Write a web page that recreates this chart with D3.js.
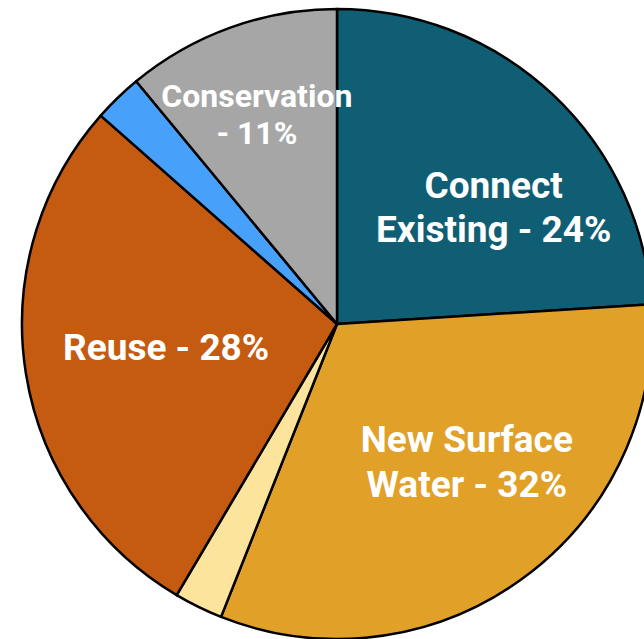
<html>
    <head>
        <title>Water Supply Strategies</title>
        <script src="https://d3js.org/d3.v7.min.js"></script>
        <style>
            body { margin: 0; background: #fff; overflow: hidden; }
            text { font-family: Roboto, sans-serif; font-weight: bold; fill: #fff; }
        </style>
    </head>
    <body>
        <script>
            // slices, clockwise from 12 o'clock
            var categories = ["Connect Existing", "New Surface Water", "Other A", "Reuse", "Other B", "Conservation"];
            var values = [24, 32, 2.5, 28, 2.5, 11];
            var colors = ["#0f5e73", "#e1a027", "#fde49d", "#c55a11", "#47a1fa", "#a6a6a6"];
            // label lines per slice (empty = no label)
            var labels = [
                ["Connect", "Existing - 24%"],
                ["New Surface", "Water - 32%"],
                [],
                ["Reuse - 28%"],
                [],
                ["Conservation", "- 11%"]
            ];

            var width = 644;
            var height = 639;
            var cx = 337;
            var cy = 324;
            var radius = 315;

            var svg = d3.select('body').append('svg')
                .attr('width', width)
                .attr('height', height);

            var g = svg.append('g')
                .attr('transform', 'translate(' + cx + ',' + cy + ')');

            var data = categories.map(function (c, i) {
                return { name: c, value: values[i], color: colors[i], lines: labels[i] };
            });

            var pie = d3.pie()
                .sort(null)
                .value(function (d) { return d.value; });

            var arc = d3.arc()
                .innerRadius(0)
                .outerRadius(radius);

            var arcs = pie(data);

            g.selectAll('path')
                .data(arcs)
                .enter()
                .append('path')
                .attr('d', arc)
                .attr('fill', function (d) { return d.data.color; })
                .attr('stroke', '#000')
                .attr('stroke-width', 2.5)
                .attr('stroke-linejoin', 'round');

            // label placement: centroid of a label arc, with a few nudges
            // [dx, dy, font size, line height]
            var labelArc = d3.arc()
                .innerRadius(0)
                .outerRadius(radius * 1.24);
            var nudge = {
                "Connect Existing": [23, 25, 37, 44],
                "New Surface Water": [15, -20, 37, 45],
                "Reuse": [22, -8, 37, 0],
                "Conservation": [-14, -26, 32, 37]
            };

            var lg = g.selectAll('g.label')
                .data(arcs.filter(function (d) { return d.data.lines.length > 0; }))
                .enter()
                .append('g')
                .attr('class', 'label')
                .attr('transform', function (d) {
                    var c = labelArc.centroid(d);
                    var n = nudge[d.data.name];
                    return 'translate(' + (c[0] + n[0]) + ',' + (c[1] + n[1]) + ')';
                });

            lg.each(function (d) {
                var n = nudge[d.data.name];
                var fs = n[2];
                var lh = n[3];
                var lines = d.data.lines;
                var t = d3.select(this).append('text')
                    .attr('text-anchor', 'middle')
                    .style('font-size', fs + 'px');
                lines.forEach(function (line, i) {
                    t.append('tspan')
                        .attr('x', 0)
                        .attr('y', (i - (lines.length - 1) / 2) * lh + fs * 0.35)
                        .text(line);
                });
            });
        </script>
    </body>
</html>
